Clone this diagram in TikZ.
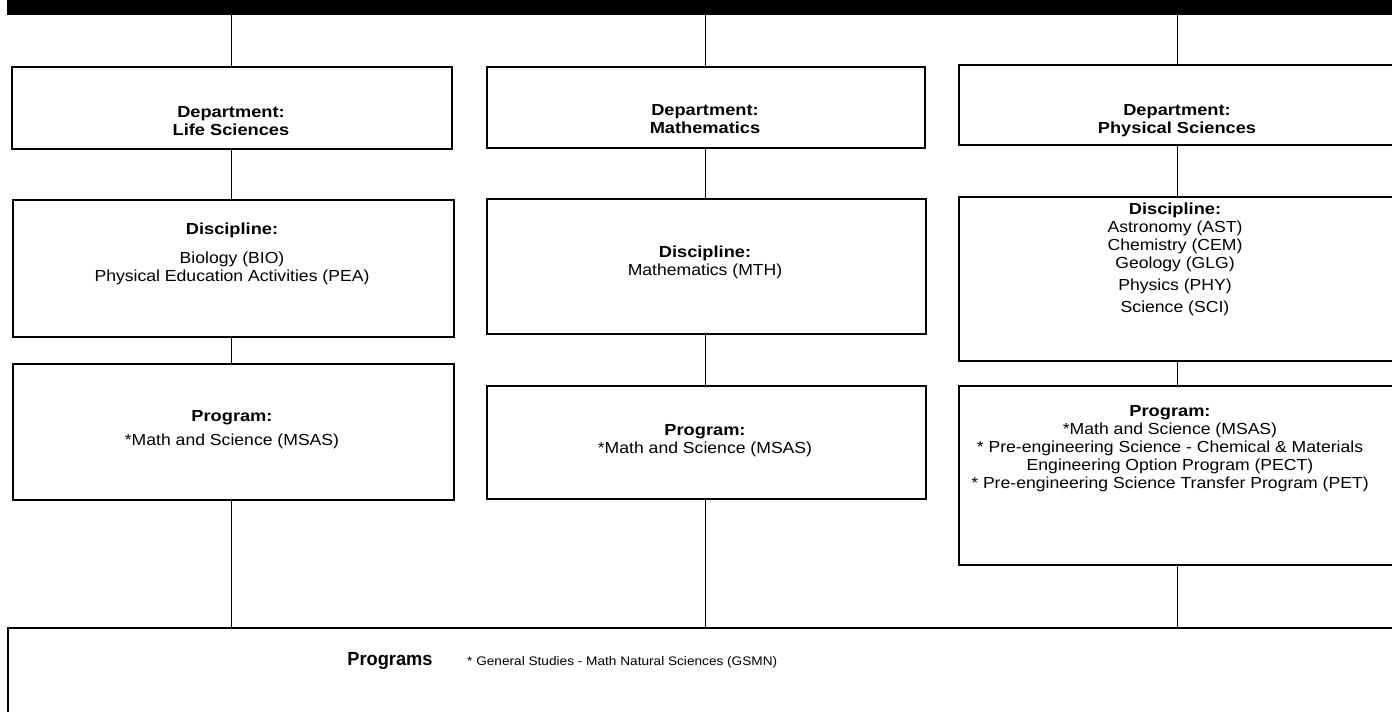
\documentclass[tikz,border=0pt]{standalone}
\usepackage{fontspec}
\setmainfont{Liberation Sans}[FakeStretch=1.1]
\newfontfamily\headfont{Liberation Sans}[FakeStretch=1.14]
\newfontfamily\bigheadfont{Liberation Sans}[FakeStretch=0.96]
\begin{document}
\begin{tikzpicture}[x=1pt,y=-1pt,
  box/.style={draw=black, line width=1.5pt, inner sep=0pt, anchor=north west},
  link/.style={draw=black, line width=1.2pt},
  txt/.style={align=center, inner sep=0pt, font=\fontsize{16}{18}\selectfont},
  hd/.style={font=\headfont\bfseries}]
\useasboundingbox (0,0) rectangle (1392,712);
\clip (0,0) rectangle (1392,712);

% title bar
\node[fill=black, inner sep=0pt, anchor=north west,
      minimum width=1385pt, minimum height=14.5pt] (bar) at (7,0) {};

% departments
\node[box, minimum width=440pt, minimum height=82pt] (dL) at (11,66) {};
\node[box, minimum width=438pt, minimum height=81pt] (dM) at (486,66) {};
\node[box, minimum width=438pt, minimum height=80pt] (dR) at (958,64) {};

% disciplines
\node[box, minimum width=441pt, minimum height=137pt] (cL) at (12,199) {};
\node[box, minimum width=439pt, minimum height=135pt] (cM) at (486,198) {};
\node[box, minimum width=438pt, minimum height=164pt] (cR) at (958,196) {};

% programs
\node[box, minimum width=441pt, minimum height=136pt] (pL) at (12,363) {};
\node[box, minimum width=439pt, minimum height=113pt] (pM) at (486,385) {};
\node[box, minimum width=438pt, minimum height=179pt] (pR) at (958,385) {};

% general programs
\node[box, minimum width=1392pt, minimum height=95pt] (gen) at (7,627) {};

% connectors
\foreach \d/\c/\p in {dL/cL/pL, dM/cM/pM, dR/cR/pR}{
  \draw[link] (\d.north |- bar.south) -- (\d.north);
  \draw[link] (\d.south) -- (\d.south |- \c.north);
  \draw[link] (\d.south |- \c.south) -- (\d.south |- \p.north);
  \draw[link] (\d.south |- \p.south) -- (\d.south |- gen.north);
}

% department labels
\node[txt] (tdL) at (231,121) {{\headfont\bfseries Department:}\\{\headfont\bfseries Life Sciences}};
\node[txt] (tdM) at (705,119) {{\headfont\bfseries Department:}\\{\headfont\bfseries Mathematics}};
\node[txt] (tdR) at (1177,121) {{\headfont\bfseries Department:}\\{\headfont\bfseries Physical Sciences}};

% discipline labels
\node[txt] (tcL) at (232,254) {{\headfont\bfseries Discipline:}\\[11pt]Biology (BIO)\\Physical Education Activities (PEA)};
\node[txt] (tcM) at (705,262) {{\headfont\bfseries Discipline:}\\Mathematics (MTH)};
\node[txt] (tcR) at (1175,259) {{\headfont\bfseries Discipline:}\\Astronomy (AST)\\Chemistry (CEM)\\Geology (GLG)\\[4pt]Physics (PHY)\\[4pt]Science (SCI)};

% program labels
\node[txt] (tpL) at (232,430) {{\headfont\bfseries Program:}\\[6pt]*Math and Science (MSAS)};
\node[txt] (tpM) at (705,441) {{\headfont\bfseries Program:}\\*Math and Science (MSAS)};
\node[txt] (tpR) at (1170,449) {{\headfont\bfseries Program:}\\*Math and Science (MSAS)\\* Pre-engineering Science - Chemical \& Materials\\Engineering Option Program (PECT)\\* Pre-engineering Science Transfer Program (PET)};

% general programs labels
\node[inner sep=0pt, font=\bigheadfont\bfseries\fontsize{19}{22}\selectfont] (tgH) at (390,661) {Programs};
\node[inner sep=0pt, anchor=west, font=\fontsize{12.4}{14}\selectfont] (tgL) at (467,662) {* General Studies - Math Natural Sciences (GSMN)};
\end{tikzpicture}
\end{document}
